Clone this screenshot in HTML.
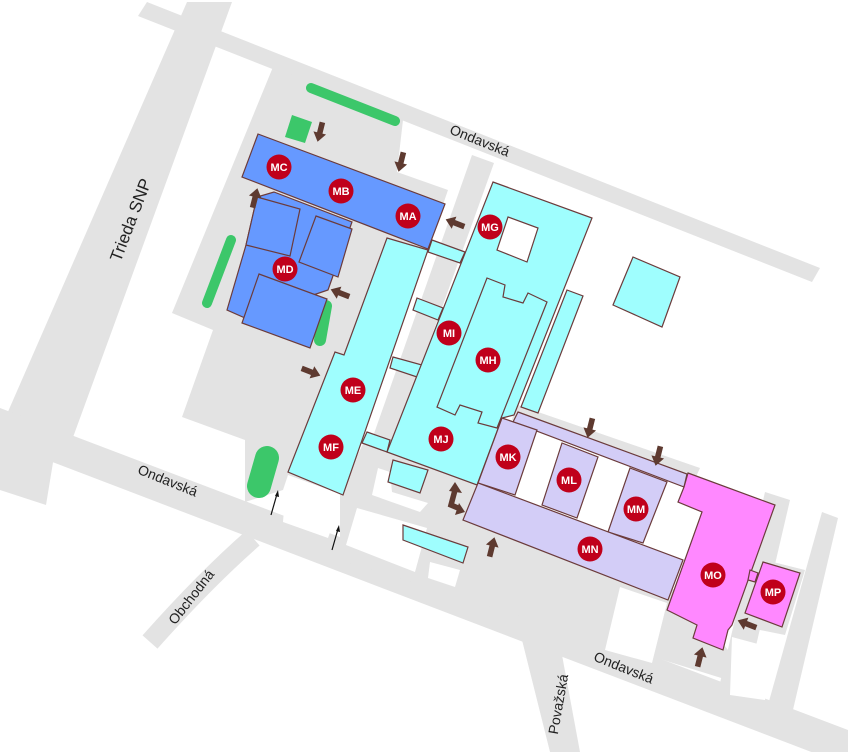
<!DOCTYPE html>
<html><head><meta charset="utf-8"><style>html,body{margin:0;padding:0;background:#fff}svg{display:block}</style></head>
<body>
<svg width="848" height="752" viewBox="0 0 848 752" xmlns="http://www.w3.org/2000/svg">
<defs>
<path id="ar" d="M-2.8,10 L2.8,10 L2.8,-1 L6.5,-1 L0,-10 L-6.5,-1 L-2.8,-1 Z" fill="#5e3a30"/>
</defs>
<g fill="#e3e3e3">
<polygon points="147,2 820,268 812,282 138,16"/>
<polygon points="187,2 232,2 72,440 24,445 0,470 0,430"/>
<polygon points="0,408 848,730 848,766 0,442"/>
<polygon points="0,420 60,420 46,505 0,490"/>
<polygon points="273,67 403,120 397,172 448,190 343,495 288,475 283,490 245,502 245,440 182,417 213,330 172,313"/>
<polygon points="472,155 494,163 390,452 370,445"/>
<polygon points="340,490 365,440 480,470 470,512 680,592 720,640 760,690 340,560"/>
<polygon points="515,404 700,468 690,490 512,420"/>
<polygon points="765,492 790,500 742,706 716,700"/>
<polygon points="822,512 838,518 792,714 766,712"/>
<polygon points="745,555 805,570 785,635 735,625"/>
<polygon points="522,640 562,655 580,752 550,752"/>
</g>
<path d="M253,538 Q205,580 150,642" stroke="#e3e3e3" stroke-width="20" fill="none"/>
<g fill="#fff">
<polygon points="286,485 340,505 328,538 283,522"/>
<polygon points="357,508 427,528 415,572 346,545"/>
<polygon points="430,562 460,570 455,587 428,578"/>
<polygon points="378,468 390,472 392,492 428,503 420,512 372,495"/>
<polygon points="620,587 667,603 652,663 605,650"/>
<polygon points="732,637 773,648 765,700 730,695"/>
</g>
<!-- greens -->
<g stroke="#3cc76a" stroke-linecap="round" fill="none">
<line x1="311" y1="88" x2="395" y2="121" stroke-width="10"/>
<line x1="231" y1="240" x2="207" y2="303" stroke-width="10"/>
<line x1="326" y1="306" x2="320" y2="340" stroke-width="12"/>
<line x1="267" y1="458" x2="259" y2="486" stroke-width="24"/>
</g>
<polygon points="292,115 312,122 305,143 285,137" fill="#3cc76a"/>
<g stroke="#6b3b3b" stroke-width="1.2" stroke-linejoin="miter">
<!-- blue -->
<g fill="#6699ff">
<polygon points="274,192 352,222 328,290 245,318 227,310 246,245 257,197"/>
<polygon points="257,197 300,209 290,256 246,245"/>
<polygon points="316,216 352,229 338,277 299,262"/>
<polygon points="259,274 327,299 310,348 242,323"/>
<polygon points="258,134 445,204 428,249 242,177"/>
</g>
<!-- cyan -->
<g fill="#9ffefe">
<polygon points="432,240 465,252 460,263 428,252"/>
<polygon points="417,298 443,308 438,320 413,310"/>
<polygon points="393,357 422,365 417,377 390,368"/>
<polygon points="367,432 390,440 387,452 362,443"/>
<polygon points="387,238 428,250 343,495 288,472 335,352 344,355"/>
<polygon points="493,182 592,218 514,415 502,418 477,485 387,452"/>
<polygon points="567,290 583,296 538,413 521,407"/>
<polygon points="487,278 505,285 503,297 523,303 528,293 547,302 497,428 478,423 482,412 460,405 455,415 437,407"/>
<polygon points="393,460 428,470 420,493 388,482"/>
<polygon points="403,525 468,547 463,563 403,540"/>
<polygon points="633,257 680,277 662,327 613,305"/>
</g>
<polygon points="508,217 538,228 527,262 497,250" fill="#fff"/>
<!-- purple -->
<g fill="#d3cdf7">
<polygon points="518,412 687,474 684,487 513,422"/>
<polygon points="502,418 537,430 515,495 478,483"/>
<polygon points="562,443 598,457 577,518 542,505"/>
<polygon points="630,468 667,482 643,543 608,532"/>
<polygon points="478,483 683,560 668,600 463,520"/>
</g>
<!-- pink -->
<g fill="#ff88ff">
<polygon points="688,473 775,505 732,625 728,630 723,650 693,638 697,625 667,610 702,512 678,502 684,487"/>
<polygon points="750,570 758,573 755,582 748,580"/>
<polygon points="763,562 800,573 782,627 745,613"/>
</g>
</g>
<!-- arrows -->
<use href="#ar" transform="translate(320,132) rotate(194)"/>
<use href="#ar" transform="translate(401,162) rotate(194)"/>
<use href="#ar" transform="translate(590,428) rotate(194)"/>
<use href="#ar" transform="translate(658,456) rotate(194)"/>
<use href="#ar" transform="translate(255,198) rotate(14)"/>
<use href="#ar" transform="translate(492,547) rotate(14)"/>
<use href="#ar" transform="translate(700,657) rotate(14)"/>
<use href="#ar" transform="translate(455,223) rotate(291)"/>
<use href="#ar" transform="translate(340,293) rotate(291)"/>
<use href="#ar" transform="translate(747,624) rotate(291)"/>
<use href="#ar" transform="translate(311,372) rotate(111)"/>
<polyline points="455,490 451,505 458,508" stroke="#5e3a30" stroke-width="5.5" fill="none"/>
<polygon points="455,482 462,493 449,491" fill="#5e3a30"/>
<polygon points="465,512 455,515 459,503" fill="#5e3a30"/>
<g stroke="#111" stroke-width="1.2">
<line x1="271" y1="515" x2="277" y2="494"/><line x1="332" y1="550" x2="338" y2="529"/>
</g>
<polygon points="278,490 279,497 275,496" fill="#111"/>
<polygon points="339,525 340,532 336,531" fill="#111"/>
<!-- circles -->
<g fill="#c0001b">
<circle cx="279" cy="167" r="12.5"/><circle cx="341" cy="191" r="12.5"/><circle cx="408" cy="216" r="12.5"/>
<circle cx="490" cy="227" r="12.5"/><circle cx="285" cy="269" r="12.5"/><circle cx="449" cy="333" r="12.5"/>
<circle cx="488" cy="360" r="12.5"/><circle cx="353" cy="390" r="12.5"/><circle cx="331" cy="447" r="12.5"/>
<circle cx="441" cy="439" r="12.5"/><circle cx="508" cy="457" r="12.5"/><circle cx="569" cy="480" r="12.5"/>
<circle cx="636" cy="509" r="12.5"/><circle cx="590" cy="549" r="12.5"/><circle cx="713" cy="575" r="12.5"/>
<circle cx="773" cy="592" r="12.5"/>
</g>
<g fill="#fff" font-family="Liberation Sans, sans-serif" font-weight="bold" font-size="11" text-anchor="middle">
<text x="279" y="171">MC</text><text x="341" y="195">MB</text><text x="408" y="220">MA</text>
<text x="490" y="231">MG</text><text x="285" y="273">MD</text><text x="449" y="337">MI</text>
<text x="488" y="364">MH</text><text x="353" y="394">ME</text><text x="331" y="451">MF</text>
<text x="441" y="443">MJ</text><text x="508" y="461">MK</text><text x="569" y="484">ML</text>
<text x="636" y="513">MM</text><text x="590" y="553">MN</text><text x="713" y="579">MO</text>
<text x="773" y="596">MP</text>
</g>
<g fill="#222" font-family="Liberation Sans, sans-serif" font-size="14" text-anchor="middle">
<text transform="translate(478,145) rotate(22)">Ondavská</text>
<text transform="translate(166,485) rotate(22)">Ondavská</text>
<text transform="translate(622,672) rotate(22)">Ondavská</text>
<text transform="translate(136,222) rotate(-69)" font-size="17">Trieda SNP</text>
<text transform="translate(195,600) rotate(-52)">Obchodná</text>
<text transform="translate(563,705) rotate(-80)">Považská</text>
</g>
</svg>
</body></html>
